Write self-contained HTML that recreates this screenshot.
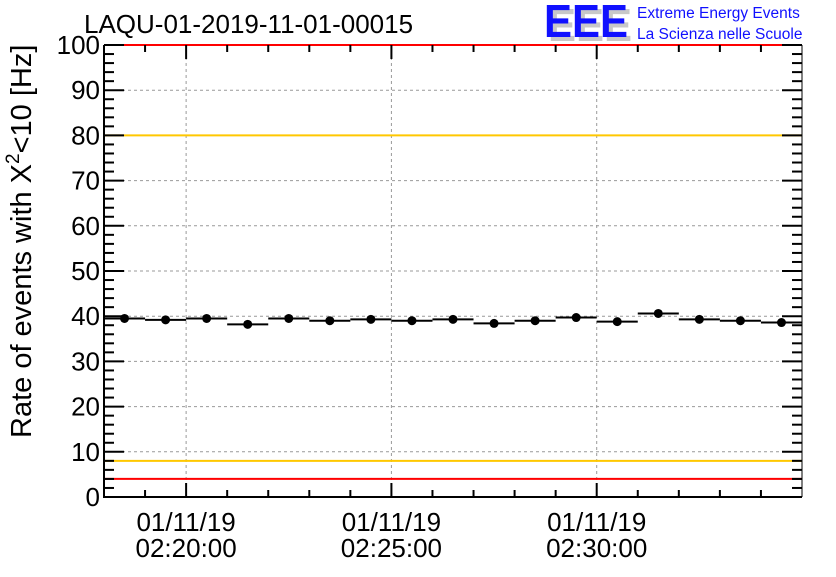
<!DOCTYPE html>
<html><head><meta charset="utf-8"><style>
body{margin:0;background:#fff;}
svg text{font-family:"Liberation Sans",sans-serif;}
</style></head><body>
<svg id="chart" width="836" height="572" viewBox="0 0 836 572" xmlns="http://www.w3.org/2000/svg">
<rect width="836" height="572" fill="#fff"/>
<text x="84" y="33" font-size="26">LAQU-01-2019-11-01-00015</text>
<g>
<text x="548" y="41" font-size="46" font-weight="bold" fill="#c8c8c8" textLength="84" lengthAdjust="spacingAndGlyphs">EEE</text>
<text x="544" y="37" font-size="46" font-weight="bold" fill="#1010ff" textLength="84" lengthAdjust="spacingAndGlyphs">EEE</text>
<text x="637" y="18" font-size="15.5" fill="#1010ff">Extreme Energy Events</text>
<text x="637" y="39" font-size="15.5" fill="#1010ff">La Scienza nelle Scuole</text>
</g>
<g id="grid"></g>
<g id="refs"></g>
<g id="marks"></g>
<g id="axes"></g>
<text transform="translate(31,438) rotate(-90)" font-size="29">Rate of events with X<tspan dy="-12" font-size="19">2</tspan><tspan dy="12">&lt;10 [Hz]</tspan></text>
</svg>
<script>
const binMinutes=[0,1,2,3,4,5,6,7,8,9,10,11,12,13,14,15,16];
const rates=[39.5,39.2,39.5,38.2,39.5,39.0,39.3,39.0,39.3,38.4,39.0,39.7,38.8,40.6,39.3,39.0,38.6];
const errors=[0.8,0.8,0.8,0.8,0.8,0.8,0.8,0.8,0.8,0.8,0.8,0.8,0.8,0.8,0.8,0.8,0.8];
const yTicks=[0,10,20,30,40,50,60,70,80,90,100];
const xMajorMinutes=[2,7,12];
const xMajorLabels=[["01/11/19","02:20:00"],["01/11/19","02:25:00"],["01/11/19","02:30:00"]];
const redLines=[4,100];
const yellowLines=[8,80];
const L=104,R=802,T=45,B=497,nMin=17;
const xs=m=>L+(R-L)*m/nMin;
const ys=v=>B-(B-T)*v/100;
const NS="http://www.w3.org/2000/svg";
function mk(p,tag,a){const e=document.createElementNS(NS,tag);for(const k in a)e.setAttribute(k,a[k]);p.appendChild(e);return e;}
const grid=document.getElementById('grid'),refs=document.getElementById('refs'),marks=document.getElementById('marks'),axes=document.getElementById('axes');
yTicks.forEach(v=>{if(v>0&&v<100){const l=mk(grid,'line',{x1:L,x2:R,y1:ys(v),y2:ys(v),stroke:'#999','stroke-dasharray':'3,3','stroke-width':1});

}});
xMajorMinutes.forEach(m=>{const l=mk(grid,'line',{x1:xs(m),x2:xs(m),y1:T,y2:B,stroke:'#999','stroke-dasharray':'3,3','stroke-width':1});

});
redLines.forEach(v=>{const l=mk(refs,'line',{x1:L,x2:R,y1:ys(v),y2:ys(v),stroke:'#f00','stroke-width':2});

});
yellowLines.forEach(v=>{const l=mk(refs,'line',{x1:L,x2:R,y1:ys(v),y2:ys(v),stroke:'#ffc800','stroke-width':2});

});
binMinutes.forEach((m,i)=>{
const g=mk(marks,'g',{});


const y=ys(rates[i]);
mk(g,'line',{x1:xs(m),x2:xs(m+1),y1:y,y2:y,stroke:'#000','stroke-width':2});
mk(g,'line',{x1:xs(m+0.5),x2:xs(m+0.5),y1:ys(rates[i]+errors[i]),y2:ys(rates[i]-errors[i]),stroke:'#000','stroke-width':2});
mk(g,'circle',{cx:xs(m+0.5),cy:y,r:4.5,fill:'#000'});
});
mk(axes,'line',{x1:L,x2:L,y1:T,y2:B,stroke:'#000','stroke-width':2});
mk(axes,'line',{x1:L-1,x2:R,y1:B,y2:B,stroke:'#000','stroke-width':2});
mk(axes,'line',{x1:R,x2:R,y1:T,y2:B,stroke:'#000','stroke-width':1});
for(let v=0;v<=100;v+=2){const major=v%10===0,len=major?20:10;
mk(axes,'line',{x1:L,x2:L+len,y1:ys(v),y2:ys(v),stroke:'#000','stroke-width':2});
mk(axes,'line',{x1:R,x2:R-len,y1:ys(v),y2:ys(v),stroke:'#000','stroke-width':2});}
yTicks.forEach(v=>{const t=mk(axes,'text',{x:L-4,y:ys(v)+9,'font-size':26,'text-anchor':'end'});t.textContent=v;

});
for(let m=1;m<nMin;m++){const major=xMajorMinutes.includes(m),len=major?14:7;
mk(axes,'line',{x1:xs(m),x2:xs(m),y1:B,y2:B-len,stroke:'#000','stroke-width':2});
mk(axes,'line',{x1:xs(m),x2:xs(m),y1:T,y2:T+len,stroke:'#000','stroke-width':2});}
xMajorMinutes.forEach((m,i)=>{xMajorLabels[i].forEach((s,j)=>{const t=mk(axes,'text',{x:xs(m),y:531+j*26,'font-size':26,'text-anchor':'middle'});t.textContent=s;

});});
</script>
</body></html>
